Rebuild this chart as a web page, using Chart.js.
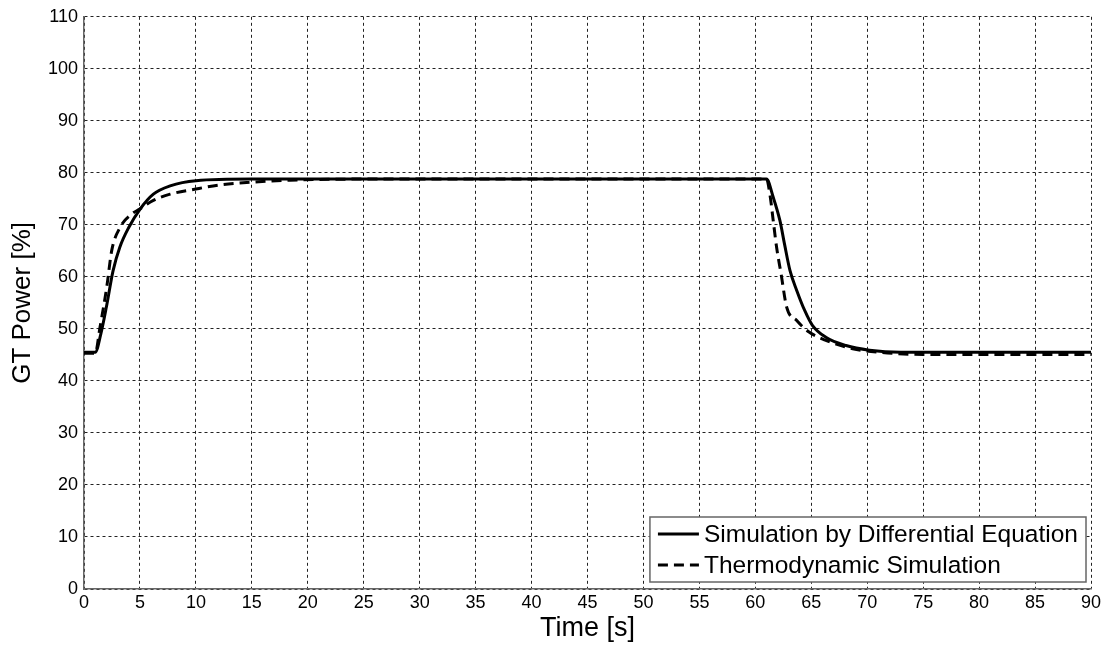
<!DOCTYPE html>
<html>
<head>
<meta charset="utf-8">
<script src="https://cdn.jsdelivr.net/npm/chart.js@4.4.1/dist/chart.umd.min.js"></script>
<style>
  html, body { margin: 0; padding: 0; background: #fff; }
  #wrap { width: 1107px; height: 649px; }
</style>
</head>
<body>
<div id="wrap"><canvas id="gtChart" width="1107" height="649"></canvas></div>
<script>
// Differential-equation model of GT power [%]
const diffTime  = [0, 1, 1.5, 2, 2.6, 3.2, 4, 5, 6.2, 7.7, 10, 15, 20, 61, 61.6, 62.2, 62.6, 63.1, 63.7, 64.4, 65.1, 66.3, 68.1, 70.2, 73, 90];
const diffPower = [45.5, 45.5, 49, 54.2, 61.2, 65.7, 69.5, 73.0, 75.9, 77.5, 78.5, 78.8, 78.8, 78.8, 75.3, 70.8, 66.4, 61.2, 57.4, 53.6, 50.7, 48.4, 46.8, 45.9, 45.5, 45.5];

// Thermodynamic simulation of GT power [%]
const thermoTime  = [0, 1, 1.43, 2.03, 2.48, 3.22, 4.27, 4.95, 6.2, 7.7, 10, 12.2, 15, 18.4, 25, 61, 61.3, 61.6, 61.9, 62.3, 62.8, 63.7, 64.8, 66.3, 68.7, 71.1, 75, 90];
const thermoPower = [45.3, 45.3, 50.3, 58.0, 65.1, 69.5, 72.1, 73.0, 74.7, 75.9, 76.9, 77.7, 78.2, 78.6, 78.8, 78.8, 75.9, 70.8, 65.7, 60.6, 54.2, 51.6, 49.4, 47.8, 46.2, 45.5, 45.1, 45.1];

const seriesLabels = ['Simulation by Differential Equation', 'Thermodynamic Simulation'];

const FONT = '"Liberation Sans", Arial, sans-serif';

function toPoints(xs, ys) {
  return xs.map((x, i) => ({ x: x, y: ys[i] }));
}

// Legend box drawn in the lower right corner of the plot area
const boxLegend = {
  id: 'boxLegend',
  afterDraw(chart) {
    const ctx = chart.ctx;
    const area = chart.chartArea;
    const sets = chart.data.datasets;
    ctx.save();
    ctx.font = '24.5px ' + FONT;
    const textW = Math.max(...sets.map(d => ctx.measureText(d.label).width));
    const lineLen = 41;
    const w = 8 + lineLen + 5 + textW + 8;
    const h = 65;
    const right = area.right - 5;
    const bottom = area.bottom - 7;
    const left = right - w;
    const top = bottom - h;

    ctx.fillStyle = '#fff';
    ctx.fillRect(left, top, w, h);
    ctx.strokeStyle = '#666';
    ctx.lineWidth = 1.5;
    ctx.strokeRect(left, top, w, h);

    sets.forEach((d, i) => {
      const y = top + 17 + i * 31;
      ctx.strokeStyle = d.borderColor;
      ctx.lineWidth = d.borderWidth;
      ctx.setLineDash(d.borderDash || []);
      ctx.beginPath();
      ctx.moveTo(left + 8, y);
      ctx.lineTo(left + 8 + lineLen, y);
      ctx.stroke();
      ctx.setLineDash([]);
      ctx.fillStyle = '#000';
      ctx.textBaseline = 'middle';
      ctx.textAlign = 'left';
      ctx.fillText(d.label, left + 8 + lineLen + 5, y + 1);
    });
    ctx.restore();
  }
};

const ctx = document.getElementById('gtChart').getContext('2d');

new Chart(ctx, {
  type: 'line',
  data: {
    datasets: [{
      label: seriesLabels[0],
      data: toPoints(diffTime, diffPower),
      borderColor: '#000',
      borderWidth: 3,
      pointRadius: 0,
      cubicInterpolationMode: 'monotone',
      fill: false
    }, {
      label: seriesLabels[1],
      data: toPoints(thermoTime, thermoPower),
      borderColor: '#000',
      borderWidth: 3,
      borderDash: [10, 6],
      pointRadius: 0,
      cubicInterpolationMode: 'monotone',
      fill: false
    }]
  },
  options: {
    responsive: false,
    animation: false,
    layout: { padding: { top: 16, right: 16, left: 0, bottom: 0 } },
    plugins: {
      legend: { display: false },
      tooltip: { enabled: false }
    },
    scales: {
      x: {
        type: 'linear',
        min: 0,
        max: 90,
        afterFit: s => { s.height = 60; },
        ticks: {
          stepSize: 5,
          color: '#000',
          padding: 3,
          font: { family: FONT, size: 18 }
        },
        grid: {
          color: '#222',
          lineWidth: 1,
          drawTicks: false
        },
        border: { display: true, color: '#666', width: 1.5, dash: [3, 3] },
        title: {
          display: true,
          text: 'Time [s]',
          color: '#000',
          font: { family: FONT, size: 27, lineHeight: 1 },
          padding: { top: 0, bottom: 7 }
        }
      },
      y: {
        min: 0,
        max: 110,
        afterFit: s => { s.width = 84; },
        ticks: {
          stepSize: 10,
          color: '#000',
          padding: 6,
          font: { family: FONT, size: 18 }
        },
        grid: {
          color: '#222',
          lineWidth: 1,
          drawTicks: false
        },
        border: { display: true, color: '#666', width: 1.5, dash: [3, 3] },
        title: {
          display: true,
          text: 'GT Power [%]',
          color: '#000',
          font: { family: FONT, size: 26, lineHeight: 1 },
          padding: { top: 10, bottom: 0 }
        }
      }
    }
  },
  plugins: [boxLegend]
});
</script>
</body>
</html>
